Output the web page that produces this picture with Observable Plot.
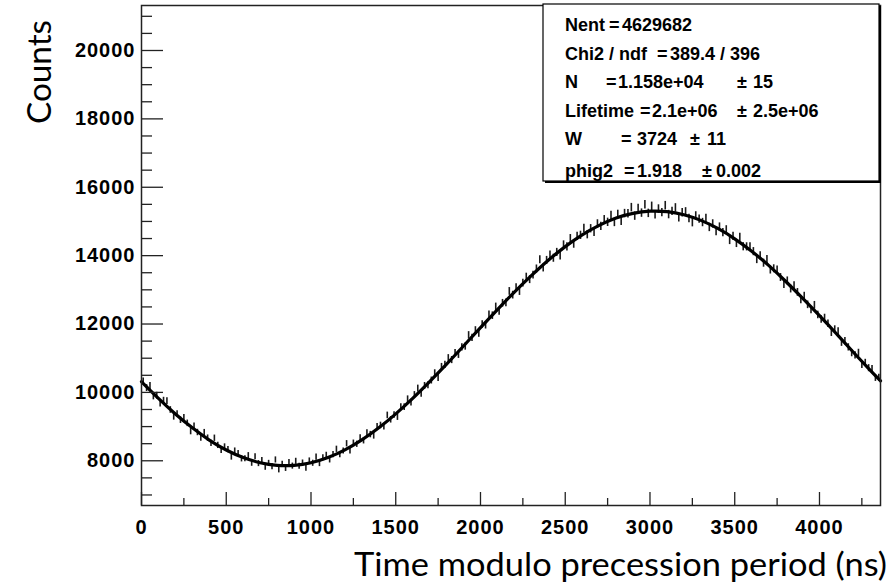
<!DOCTYPE html>
<html><head><meta charset="utf-8">
<script src="https://cdn.jsdelivr.net/npm/d3@7"></script>
<script src="https://cdn.jsdelivr.net/npm/@observablehq/plot@0.6"></script>
<style>
html,body{margin:0;padding:0;background:#fff;}
#chart{position:relative;width:891px;height:587px;}
g[aria-label="x-axis tick label"] text, g[aria-label="y-axis tick label"] text {letter-spacing:1px;}
</style></head><body><div id="chart"></div>
<script>
// Histogram: counts per 20 ns bin (0 .. 4360 ns)
const binWidth = 20;
const counts = [
10323,10126,10188,9881,9904, 9669,9758,9747,9486,9285, 9368,9187,9256,9095,8854, 9008,8827,8665,8823,8662,
8507,8659,8450,8302,8404, 8323,8109,8284,8210,8056, 8059,8149,7928,8118,7918, 8005,7810,7924,7829,8024,
7734,7899,7776,7949,7844, 7984,7839,7934,7779,7994, 7927,8108,7918,8088,8159, 8026,8182,8336,8182,8286,
8498,8286,8514,8483,8671, 8585,8816,8766,8727,8998, 9034,8996,9327,9199,9341, 9277,9568,9568,9799,9700,
9924,10112,9960,10189,10207, 10347,10559,10421,10744,10806, 11000,10946,11152,11099,11315, 11342,11669,11596,11813,11720,
11987,11963,12268,12244,12500, 12364,12607,12620,12952,12845, 13064,12950,13195,13371,13297, 13430,13610,13880,13640,13860,
14015,13924,14094,13994,14313, 14258,14497,14336,14565,14594, 14797,14612,14787,14682,14927, 14857,15050,14974,15177,14970,
15206,15003,15230,15227,15404, 15156,15380,15244,15485,15236, 15442,15194,15363,15258,15461, 15201,15295,15396,15106,15256,
15280,15087,14964,15161,15068, 14968,15091,14824,14927,14700, 14836,14675,14754,14443,14562, 14356,14533,14260,14257,14254,
14117,13884,13992,13779,13886, 13579,13616,13583,13360,13157, 13262,13023,13124,12924,12706, 12815,12562,12410,12548,12265,
12131,12176,12010,11744,11839, 11782,11453,11495,11317,11148, 11081,11156,10800,10864,10709, 10685,10423,10430
];

// Fit curve
const fitT = [0,100,200,300,400,500,600,700,800,900,1000,1100,1200,1300,1400,1500,1600,1700,1800,1900,
  2000,2100,2200,2300,2400,2500,2600,2700,2800,2900,3000,3100,3200,3300,3400,3500,3600,3700,3800,3900,
  4000,4100,4200,4300,4360];
const fitY = [10312,9825,9369,8964,8606,8315,8094,7943,7866,7866,7942,8094,8319,8610,8963,9372,9825,10316,10827,11358,
  11894,12423,12936,13415,13865,14263,14609,14885,15102,15237,15300,15286,15196,15031,14796,14492,14128,13715,13251,12756,
  12244,11716,11174,10646,10337];

const xTicksMajor = [0,500,1000,1500,2000,2500,3000,3500,4000];
const xTicksMinor = [250,750,1250,1750,2250,2750,3250,3750,4250];
const yTicksMajor = [8000,10000,12000,14000,16000,18000,20000];
const yTicksMinor = [7000,7500,8500,9000,9500,10500,11000,11500,12500,13000,13500,14500,15000,15500,16500,17000,17500,18500,19000,19500,20500,21000];

const xTitle = "Time modulo precession period (ns)";
const yTitle = "Counts";

// Stats box lines: tokens
const statLines = [
  ["Nent", "=", "4629682"],
  ["Chi2 / ndf", "=", "389.4 / 396"],
  ["N", "=", "1.158e+04", "\u00b1", "15"],
  ["Lifetime", "=", "2.1e+06", "\u00b1", "2.5e+06"],
  ["W", "=", "3724", "\u00b1", "11"],
  ["phig2", "=", "1.918", "\u00b1", "0.002"]
];

const bins = counts.map((c, i) => ({t: (i + 0.5) * binWidth, c, lo: c - Math.sqrt(c), hi: c + Math.sqrt(c)}));
const fit = fitT.map((t, i) => ({t, y: fitY[i]}));

const W = 891, H = 587, mL = 141, mR = 11, mT = 5, mB = 82;
const innerW = W - mL - mR, innerH = H - mT - mB;
const font = "'Liberation Sans', Arial, sans-serif";

const svg = Plot.plot({
  width: W, height: H,
  marginLeft: mL, marginRight: mR, marginTop: mT, marginBottom: mB,
  style: {background: "#fff", fontFamily: font, color: "#000"},
  x: {domain: [0, 4360]},
  y: {domain: [6692, 21316]},
  marks: [
    Plot.ruleX(bins, {x: "t", y1: "lo", y2: "hi", stroke: "#1a1a1a", strokeWidth: 1.6}),
    Plot.line(fit, {x: "t", y: "y", stroke: "#000", strokeWidth: 3.2, curve: "natural"}),
    Plot.tickX(xTicksMajor, {x: d => d, insetTop: innerH - 13, stroke: "#222", strokeWidth: 1.3}),
    Plot.tickX(xTicksMinor, {x: d => d, insetTop: innerH - 7, stroke: "#222", strokeWidth: 1.3}),
    Plot.tickY(yTicksMajor, {y: d => d, insetRight: innerW - 22, stroke: "#222", strokeWidth: 1.3}),
    Plot.tickY(yTicksMinor, {y: d => d, insetRight: innerW - 11, stroke: "#222", strokeWidth: 1.3}),
    Plot.axisX(xTicksMajor, {tickSize: 0, tickPadding: 14, fontSize: 20, fontWeight: "bold", fontFamily: font, label: null, tickFormat: d => String(d)}),
    Plot.axisY(yTicksMajor, {tickSize: 0, tickPadding: 6, fontSize: 20, fontWeight: "bold", fontFamily: font, label: null, tickFormat: d => String(d)}),
    Plot.frame({stroke: "#222", strokeWidth: 1.5})
  ]
});

const s = d3.select(svg);
// Stats box with shadow
s.append("rect").attr("x", 545).attr("y", 6).attr("width", 336).attr("height", 177).attr("fill", "#000");
s.append("rect").attr("x", 543).attr("y", 4).attr("width", 336).attr("height", 177)
  .attr("fill", "#fff").attr("stroke", "#000").attr("stroke-width", 1.2);

const baselines = [31, 59.5, 88, 116.5, 145, 177];
const tokenX = [
  [565, 609, 622],
  [565, 657, 670],
  [565, 606, 618, 737, 753],
  [565, 640, 652, 737, 753],
  [565, 621, 637, 690, 707],
  [565, 624, 637, 702, 716]
];
statLines.forEach((line, li) => {
  line.forEach((tok, ti) => {
    s.append("text")
      .attr("x", tokenX[li][ti]).attr("y", baselines[li])
      .attr("text-anchor", "start")
      .attr("font-family", font).attr("font-weight", "bold").attr("font-size", 18)
      .attr("fill", "#000")
      .text(tok);
  });
});

// Axis titles
const titleFont = "Lato, 'Open Sans', 'Noto Sans', sans-serif";
s.append("text")
  .attr("transform", "translate(51,124) rotate(-90)")
  .attr("text-anchor", "start")
  .attr("font-family", titleFont).attr("font-size", 32).attr("fill", "#000")
  .attr("textLength", 104).attr("lengthAdjust", "spacingAndGlyphs")
  .text(yTitle);
s.append("text")
  .attr("x", 354).attr("y", 576)
  .attr("text-anchor", "start")
  .attr("font-family", titleFont).attr("font-size", 32).attr("fill", "#000")
  .attr("textLength", 533).attr("lengthAdjust", "spacingAndGlyphs")
  .text(xTitle);

document.getElementById("chart").appendChild(svg);
</script>
</body></html>
